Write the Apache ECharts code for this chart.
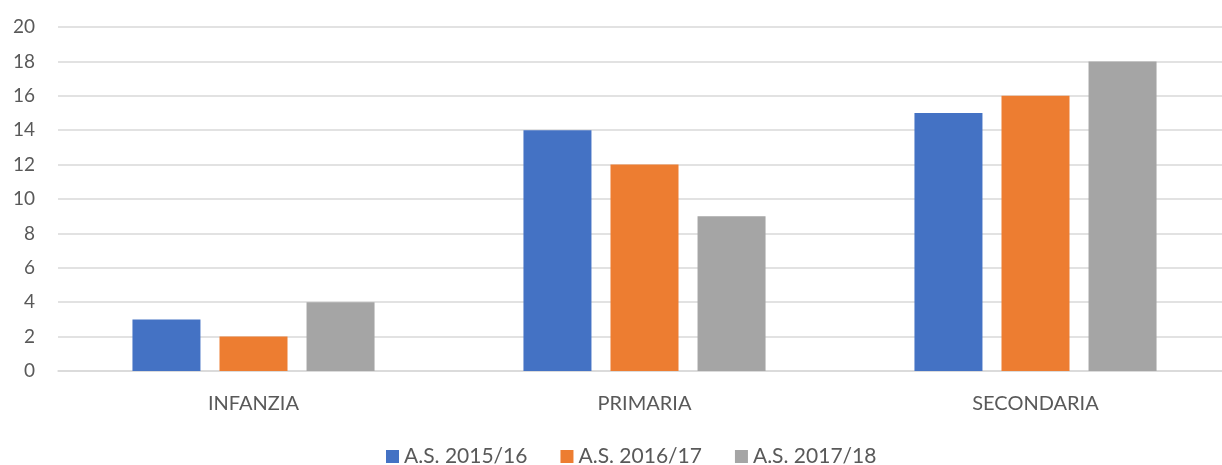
<!DOCTYPE html>
<html>
<head>
<meta charset="utf-8">
<script src="https://cdn.jsdelivr.net/npm/echarts@6/dist/echarts.min.js"></script>
<style>
  html, body { margin: 0; padding: 0; background: #ffffff; }
  #chart { width: 1222px; height: 465px; }
</style>
</head>
<body>
<div id="chart"></div>
<script>
  const categories = ['INFANZIA', 'PRIMARIA', 'SECONDARIA'];
  const seriesNames = ['A.S. 2015/16', 'A.S. 2016/17', 'A.S. 2017/18'];
  const as2015 = [3, 14, 15];
  const as2016 = [2, 12, 16];
  const as2017 = [4, 9, 18];
  const colors = ['#4472C4', '#ED7D31', '#A5A5A5'];

  const font = 'Lato, "Open Sans", sans-serif';
  const chart = echarts.init(document.getElementById('chart'));

  const values = [as2015, as2016, as2017];
  const option = {
    backgroundColor: '#ffffff',
    animation: false,
    color: colors,
    grid: { left: 58, top: 27, width: 1173, height: 344, containLabel: false, outerBoundsMode: 'none' },
    legend: {
      top: 441,
      left: 381,
      itemWidth: 13,
      itemHeight: 13,
      itemGap: 33,
      icon: 'rect',
      textStyle: { fontFamily: font, fontSize: 21, color: '#595959' },
      data: seriesNames
    },
    xAxis: {
      type: 'category',
      data: categories,
      axisLine: { lineStyle: { color: '#D9D9D9', width: 1.5 } },
      axisTick: { show: false },
      axisLabel: { fontFamily: font, fontSize: 20, color: '#595959', margin: 23 }
    },
    yAxis: {
      type: 'value',
      min: 0,
      max: 20,
      interval: 2,
      axisLine: { show: false },
      axisTick: { show: false },
      splitLine: { lineStyle: { color: '#D9D9D9', width: 1.5 } },
      axisLabel: { fontFamily: font, fontSize: 19, color: '#595959', margin: 23 }
    },
    series: seriesNames.map((name, i) => ({
      name: name,
      type: 'bar',
      data: values[i],
      barWidth: 68,
      barGap: '28%',
      itemStyle: { color: colors[i] }
    }))
  };
  chart.setOption(option);
</script>
</body>
</html>
